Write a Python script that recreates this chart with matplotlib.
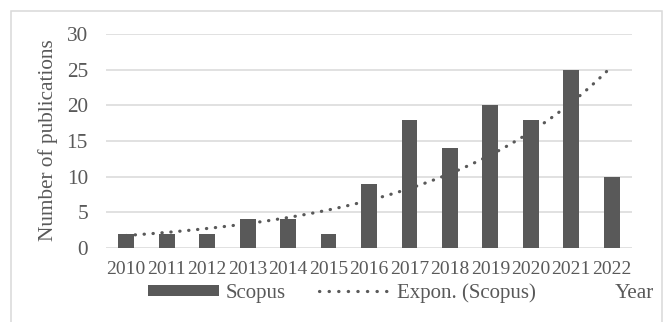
import numpy as np
import matplotlib
matplotlib.use("Agg")
import matplotlib.pyplot as plt
from matplotlib.patches import Rectangle
from matplotlib.lines import Line2D

years = ["2010", "2011", "2012", "2013", "2014", "2015", "2016",
         "2017", "2018", "2019", "2020", "2021", "2022"]
scopus = [2, 2, 2, 4, 4, 2, 9, 18, 14, 20, 18, 25, 10]
yticks = [0, 5, 10, 15, 20, 25, 30]

W, H = 669, 322
TXT = "#595959"
GRID = "#d9d9d9"
plt.rcParams["font.family"] = ["Liberation Serif", "DejaVu Serif"]

fig = plt.figure(figsize=(W / 100, H / 100), dpi=100)
ax = fig.add_axes([106 / W, 1 - 248 / H, (632 - 106) / W, (248 - 34) / H])

x = np.arange(len(years))
ax.bar(x, scopus, width=0.39, color="#595959", zorder=2)

# Exponential trend line (Excel-style: fit ln(y) against 1..n)
n = np.arange(1, len(scopus) + 1)
b, a = np.polyfit(n, np.log(scopus), 1)
xs = np.linspace(1, len(scopus), 300)
trend = np.exp(a + b * xs)
ax.plot(xs - 1, trend, color="#595959", lw=2.3, linestyle=(0, (0.1, 2.7)),
        dash_capstyle="round", zorder=3)

ax.set_xlim(-0.5, len(years) - 0.5)
ax.set_ylim(0, 30)
ax.set_yticks(yticks)
ax.set_xticks(x)
ax.set_xticklabels(years)
ax.tick_params(axis="x", length=0, pad=9, labelsize=14, colors=TXT)
ax.tick_params(axis="y", length=0, pad=13, labelsize=15.3, colors=TXT)
for s in ax.spines.values():
    s.set_visible(False)
ax.yaxis.grid(True, color=GRID, lw=1.1, zorder=0)
ax.set_axisbelow(True)

ax.set_ylabel("Number of publications", fontsize=15.3, color=TXT)
ax.yaxis.set_label_coords((58 - 106) / 526, 0.505)

fig.text(654 / W, 1 - 293 / H, "Year", ha="right", va="center", fontsize=15.3, color=TXT)

h_bar = Rectangle((0, 0), 1, 1, facecolor="#595959", edgecolor="none")
h_line = Line2D([], [], color="#595959", lw=2.3, linestyle=(0, (0.1, 2.9)),
                dash_capstyle="round")
leg = fig.legend([h_bar, h_line], ["Scopus", "Expon. (Scopus)"], loc="center",
                 bbox_to_anchor=(342 / W, 1 - 293 / H), ncol=2, frameon=False,
                 fontsize=15, handlelength=3.4, handleheight=0.45,
                 handletextpad=0.35, columnspacing=1.6, borderpad=0)
for t in leg.get_texts():
    t.set_color(TXT)

border = Rectangle((11 / W, -0.05), (662 - 11) / W, 1.05 - 11 / H,
                   transform=fig.transFigure, fill=False, edgecolor=GRID,
                   lw=1.1, clip_on=False)
fig.patches.append(border)

fig.savefig("out.png", dpi=100)
